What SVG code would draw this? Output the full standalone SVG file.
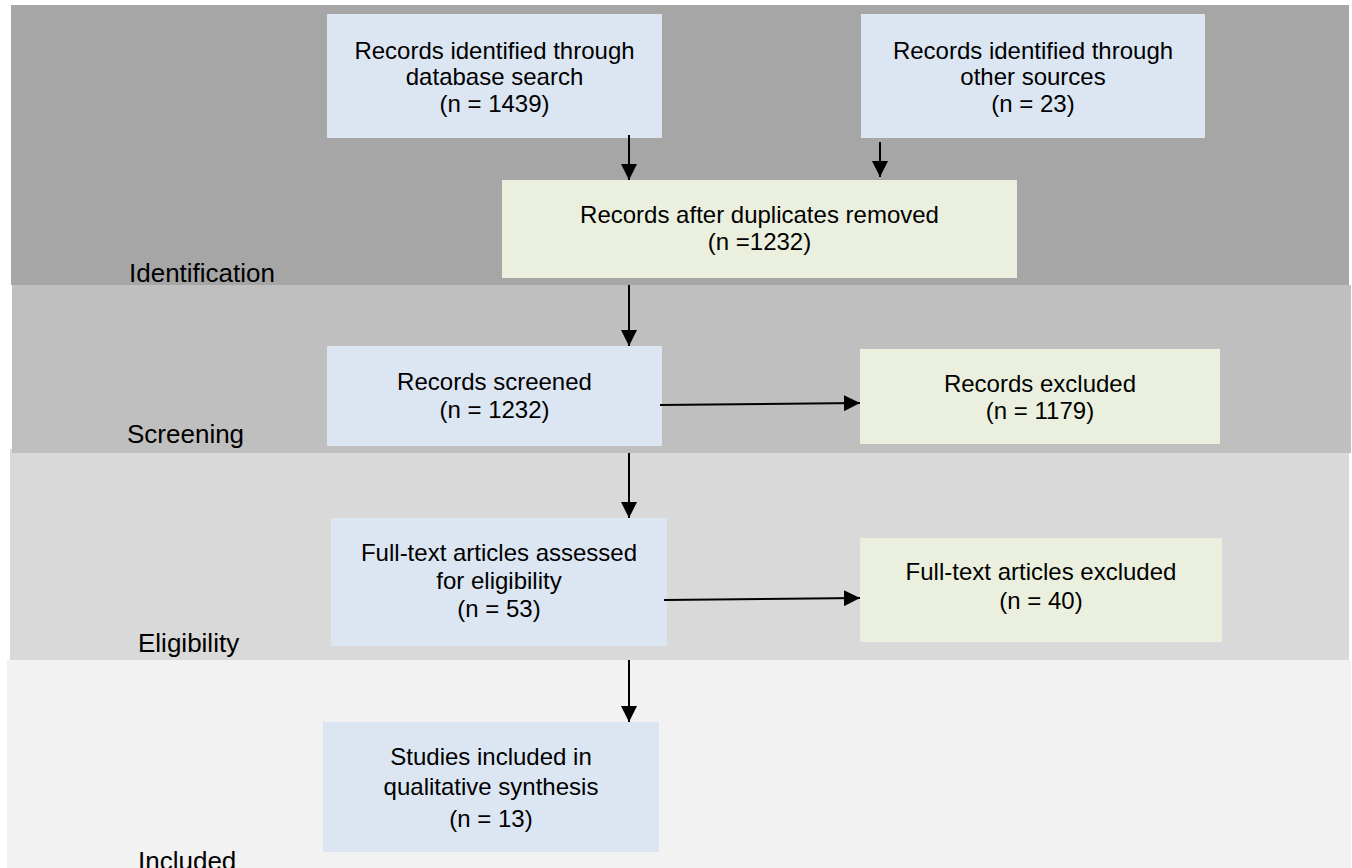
<svg xmlns="http://www.w3.org/2000/svg" width="1352" height="868" viewBox="0 0 1352 868">
<style>
text{font-family:"Liberation Sans",Arial,sans-serif;fill:#000}
.n{font-size:24px;text-anchor:middle}
.lab{font-size:26px}
.blue{fill:#dce6f2}
.green{fill:#ebf0de}
.c{stroke:#000;stroke-width:2;fill:none;marker-end:url(#ah)}
</style>
<defs>
<marker id="ah" markerUnits="userSpaceOnUse" markerWidth="16" markerHeight="16" refX="16" refY="8" orient="auto">
<path d="M0,0 L16,8 L0,16 Z" fill="#000"/>
</marker>
</defs>
<rect width="1352" height="868" fill="#fff"/>
<g id="bands">
<rect x="7" y="660" width="1344" height="210" fill="#f2f2f2"/>
<rect x="10" y="449" width="1339" height="211" fill="#d9d9d9"/>
<rect x="12" y="285" width="1339" height="168" fill="#bfbfbf"/>
<rect x="11" y="5" width="1338" height="280" fill="#a6a6a6"/>
<text class="lab" x="129" y="282">Identification</text>
<text class="lab" x="127" y="443">Screening</text>
<text class="lab" x="138" y="652">Eligibility</text>
<text class="lab" x="138" y="870">Included</text>
</g>
<g id="db">
<rect class="blue" x="327" y="14" width="335" height="124"/>
<text class="n" x="494.5" y="58.5">Records identified through</text>
<text class="n" x="494.5" y="85">database search</text>
<text class="n" x="494.5" y="111.5">(n = 1439)</text>
</g>
<g id="other">
<rect class="blue" x="861" y="14" width="344" height="124"/>
<text class="n" x="1033" y="58.5">Records identified through</text>
<text class="n" x="1033" y="85">other sources</text>
<text class="n" x="1033" y="111.5">(n = 23)</text>
</g>
<g id="dup">
<rect class="green" x="502" y="180" width="515" height="98"/>
<text class="n" x="759.5" y="222.5">Records after duplicates removed</text>
<text class="n" x="759.5" y="250">(n =1232)</text>
</g>
<g id="screened">
<rect class="blue" x="327" y="346" width="335" height="100"/>
<text class="n" x="494.5" y="390">Records screened</text>
<text class="n" x="494.5" y="417.5">(n = 1232)</text>
</g>
<g id="excluded">
<rect class="green" x="860" y="349" width="360" height="95"/>
<text class="n" x="1040" y="391.5">Records excluded</text>
<text class="n" x="1040" y="419">(n = 1179)</text>
</g>
<g id="fulltext">
<rect class="blue" x="331" y="518" width="336" height="128"/>
<text class="n" x="499" y="560.5">Full-text articles assessed</text>
<text class="n" x="499" y="588.5">for eligibility</text>
<text class="n" x="499" y="617">(n = 53)</text>
</g>
<g id="ftexcluded">
<rect class="green" x="860" y="538" width="362" height="104"/>
<text class="n" x="1041" y="580">Full-text articles excluded</text>
<text class="n" x="1041" y="608.5">(n = 40)</text>
</g>
<g id="included">
<rect class="blue" x="323" y="722" width="336" height="130"/>
<text class="n" x="491" y="765">Studies included in</text>
<text class="n" x="491" y="795">qualitative synthesis</text>
<text class="n" x="491" y="826.5">(n = 13)</text>
</g>
<g id="connectors">
<line class="c" x1="629" y1="135" x2="629" y2="180"/>
<line class="c" x1="880" y1="142" x2="880" y2="177"/>
<line class="c" x1="629" y1="285" x2="629" y2="346"/>
<line class="c" x1="660" y1="405" x2="860" y2="403"/>
<line class="c" x1="629" y1="453" x2="629" y2="518"/>
<line class="c" x1="664" y1="600" x2="860" y2="598"/>
<line class="c" x1="629" y1="660" x2="629" y2="722"/>
</g>
</svg>
